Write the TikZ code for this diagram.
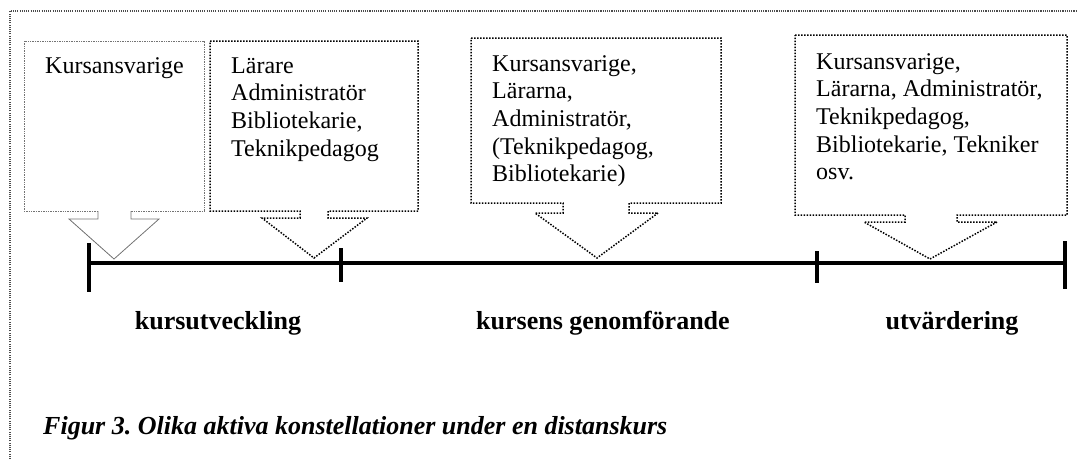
\documentclass[tikz,border=0pt]{standalone}
\usepackage{fontspec}
\setmainfont{Liberation Serif}
\frenchspacing
\begin{document}
\begin{tikzpicture}[x=1pt,y=-1pt,
  frameline/.style={line width=1.1pt, black!70, dash pattern=on 1.1pt off 1.1pt},
  boxgray/.style={line width=0.9pt, gray!90!black, dash pattern=on 0.9pt off 0.8pt},
  armgray/.style={line width=0.8pt, gray!90!black},
  boxdot/.style={line width=1.5pt, black, dash pattern=on 1.5pt off 1.5pt},
  boxtext/.style={anchor=base west, inner sep=0pt, font=\fontsize{24}{27.7}\selectfont},
  phase/.style={anchor=base, inner sep=0pt, font=\fontsize{26}{30}\selectfont\bfseries},
  axis/.style={line width=3.2pt, black},
  tick/.style={line width=3.2pt, black}]
\useasboundingbox (0,0) rectangle (1077,459);
% outer frame
\draw[frameline] (10,459) -- (10,11) -- (1077,11);
% callout 1
\draw[boxgray] (98,211) -- (24,211) -- (24,41) -- (204,41) -- (204,211) -- (131,211);
\draw[armgray] (98,211) -- (98,219) -- (69,219) -- (114,259) coordinate (tipA) -- (159,219) -- (131,219) -- (131,211);
\node[boxtext] (txtA) at (45,73) {\begin{tabular}[t]{@{}l@{}}Kursansvarige\end{tabular}};
% callout 2
\draw[boxdot] (210,41) -- (418,41) -- (418,211) -- (328,211) -- (328,218) -- (367,218) -- (314,258) coordinate (tipB) -- (262,218) -- (300,218) -- (300,211) -- (210,211) -- cycle;
\node[boxtext] (txtB) at (231,73) {\begin{tabular}[t]{@{}l@{}}Lärare\\Administratör\\Bibliotekarie,\\Teknikpedagog\end{tabular}};
% callout 3
\draw[boxdot] (471,38) -- (721,38) -- (721,203) -- (629,203) -- (629,213) -- (658,213) -- (597,258) coordinate (tipC) -- (535,213) -- (563,213) -- (563,203) -- (471,203) -- cycle;
\node[boxtext] (txtC) at (492,71) {\begin{tabular}[t]{@{}l@{}}Kursansvarige,\\Lärarna,\\Administratör,\\(Teknikpedagog,\\Bibliotekarie)\end{tabular}};
% callout 4
\draw[boxdot] (795,35) -- (1067,35) -- (1067,215) -- (957,215) -- (957,222) -- (997,222) -- (930,259) coordinate (tipD) -- (864,222) -- (905,222) -- (905,215) -- (795,215) -- cycle;
\node[boxtext] (txtD) at (816,69) {\begin{tabular}[t]{@{}l@{}}Kursansvarige,\\Lärarna, Administratör,\\Teknikpedagog,\\Bibliotekarie, Tekniker\\osv.\end{tabular}};
% timeline
\coordinate (t1) at (89,263);
\coordinate (t2) at (341,263);
\coordinate (t3) at (817,263);
\coordinate (t4) at (1065,263);
\draw[axis] (t1) -- (t2) -- (t3) -- (t4);
\draw[tick] (89,243) -- (89,292);
\draw[tick] (341,248) -- (341,282);
\draw[tick] (817,251) -- (817,283);
\draw[tick] (1065,241) -- (1065,289);
% phase labels
\node[phase] (p1) at (218,329) {kursutveckling};
\node[phase] (p2) at (603,329) {kursens genomförande};
\node[phase] (p3) at (952,329) {utvärdering};
% caption
\node[anchor=base west, inner sep=0pt, font=\fontsize{26}{30}\selectfont\bfseries\itshape] (cap) at (43,434) {Figur 3. Olika aktiva konstellationer under en distanskurs};
\end{tikzpicture}
\end{document}
